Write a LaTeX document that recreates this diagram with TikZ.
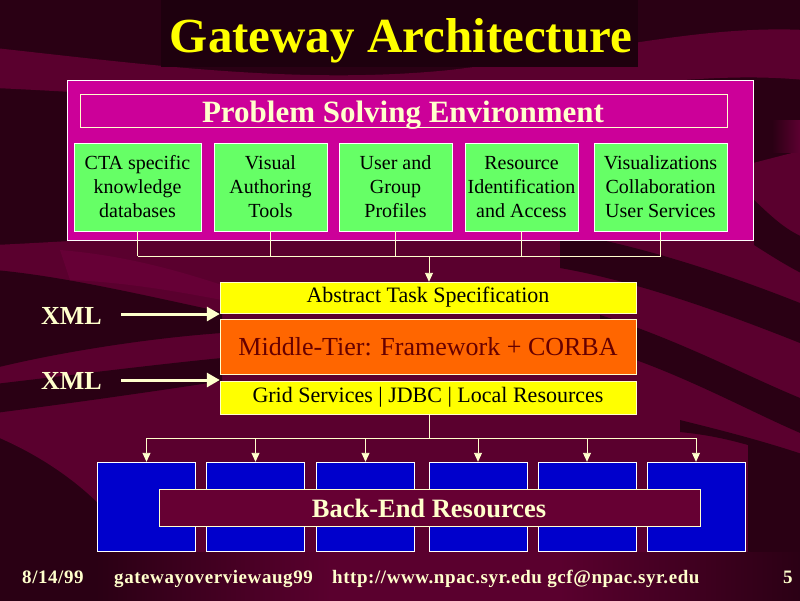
\documentclass[tikz,border=0pt]{standalone}
\usepackage{fontspec}
\setmainfont{Liberation Serif}
\usetikzlibrary{arrows.meta}
\definecolor{bgdark}{RGB}{42,0,20}
\definecolor{bgmid}{RGB}{90,0,46}
\definecolor{bglight}{RGB}{102,0,54}
\definecolor{titlebox}{RGB}{30,0,14}
\definecolor{titleyellow}{RGB}{255,255,0}
\definecolor{cream}{RGB}{255,255,204}
\definecolor{pmagenta}{RGB}{204,0,153}
\definecolor{pgreen}{RGB}{102,255,102}
\definecolor{pyellow}{RGB}{255,255,0}
\definecolor{porange}{RGB}{255,102,0}
\definecolor{pblue}{RGB}{0,0,204}
\definecolor{pmaroon}{RGB}{102,0,51}
\definecolor{darkred}{RGB}{102,0,0}
\tikzset{
  greenbox/.style={draw=white, fill=pgreen, text=black, align=center, inner sep=0pt,
    minimum height=88pt, font=\fontsize{20}{24}\selectfont},
  layerbox/.style={draw=cream, fill=pyellow, text=black, inner sep=0pt,
    minimum width=416pt, font=\fontsize{22}{26}\selectfont},
  bluebox/.style={draw=white, fill=pblue, inner sep=0pt, minimum width=98pt, minimum height=89pt},
  conn/.style={draw=cream, line width=0.9pt},
  tipc/.style={-{Triangle[length=9pt,width=8pt]}},
  xmlarrow/.style={draw=cream, line width=3pt, -{Triangle[length=13pt,width=14pt]}},
  xmltext/.style={text=cream, font=\fontsize{26}{30}\selectfont\bfseries, anchor=base, inner sep=0pt},
  foot/.style={text=cream, font=\fontsize{19}{22}\selectfont\bfseries\addfontfeature{LetterSpace=3}, anchor=base west, inner sep=0pt}
}
\begin{document}
\begin{tikzpicture}[x=1pt,y=-1pt]
\useasboundingbox (0,0) rectangle (800,600);
\begin{scope}
\clip (0,0) rectangle (800,600);
% ---------- background ----------
\fill[bgdark] (-5,-5) rectangle (805,610);
% large maroon area (lower part)
\fill[bgmid] (-5,245) .. controls (200,235) and (450,215) .. (620,190)
  .. controls (700,180) and (760,160) .. (805,150) -- (805,552) -- (100,552)
  -- (100,505) .. controls (75,480) and (40,455) .. (-5,436) -- cycle;
% top swoosh
\fill[bgmid] (-5,48) .. controls (150,65) and (300,85) .. (450,70)
  .. controls (600,52) and (700,25) .. (805,30) -- (805,80)
  .. controls (700,70) and (600,92) .. (450,100)
  .. controls (300,110) and (150,95) .. (-5,88) -- cycle;
\shade[left color=bgdark, right color=bglight] (772,120) rectangle (805,152);
% dark areas on the left
\fill[bgdark] (-5,270) .. controls (60,276) and (130,292) .. (222,312) -- (222,333)
  .. controls (150,338) and (60,352) .. (-5,368) -- cycle;
\fill[bgdark] (-5,384) .. controls (80,374) and (160,364) .. (222,358) -- (222,381)
  .. controls (150,392) and (80,402) .. (-5,413) -- cycle;
\fill[bglight] (60,250) .. controls (120,255) and (170,268) .. (222,285) -- (222,300)
  .. controls (170,290) and (120,282) .. (70,280) -- cycle;
% dark diagonal stripes on the right
\fill[bgdark] (560,232) .. controls (640,245) and (730,275) .. (805,305) -- (805,345)
  .. controls (730,315) and (640,282) .. (560,268) -- cycle;
\fill[bgdark] (600,315) .. controls (680,340) and (750,378) .. (805,400) -- (805,435)
  .. controls (750,412) and (680,372) .. (600,348) -- cycle;
\fill[bgdark] (680,420) .. controls (720,430) and (760,440) .. (805,455) -- (805,552)
  -- (748,552) -- (748,445) .. controls (730,440) and (710,435) .. (680,432) -- cycle;
\fill[bgdark] (754,200) .. controls (770,215) and (785,230) .. (805,238) -- (805,275)
  .. controls (785,265) and (770,255) .. (754,245) -- cycle;
% bottom gradient strip
\shade[left color=bgdark, right color=bgmid] (95,552) rectangle (331,610);
\fill[bgmid] (329,552) rectangle (561,610);
\shade[left color=bgmid, right color=bgdark] (559,552) rectangle (805,610);
\end{scope}
% ---------- title ----------
\node[fill=titlebox, minimum width=477pt, minimum height=67pt, inner sep=0pt] (titlebg) at (399.5,33.5) {};
\node[text=titleyellow, font=\fontsize{49}{55}\selectfont\bfseries, anchor=base, inner sep=0pt] (title) at (401,52) {Gateway Architecture};
% ---------- PSE ----------
\node[draw=white, fill=pmagenta, minimum width=686pt, minimum height=160pt, inner sep=0pt] (pse) at (410,160) {};
\node[draw=cream, minimum width=647pt, minimum height=33pt, inner sep=0pt] (psetitlebox) at (403.5,110.5) {};
\node[text=cream, font=\fontsize{31}{34}\selectfont\bfseries, anchor=base, inner sep=0pt] (psetitle) at (403,122) {Problem Solving Environment};
\node[greenbox, minimum width=127pt] (g1) at (137.5,187) {CTA specific\\knowledge\\databases};
\node[greenbox, minimum width=113pt] (g2) at (270.5,187) {Visual\\Authoring\\Tools};
\node[greenbox, minimum width=113pt] (g3) at (395.5,187) {User and\\Group\\Profiles};
\node[greenbox, minimum width=113pt] (g4) at (521.5,187) {Resource\\Identification\\and Access};
\node[greenbox, minimum width=133pt] (g5) at (660.5,187) {Visualizations\\Collaboration\\User Services};
\coordinate (hub) at (429,256);
\foreach \g in {g1,g2,g3,g4,g5} \draw[conn] (\g.south) -- (\g.south |- hub);
\draw[conn] (g1.south |- hub) -- (g5.south |- hub);
% ---------- middle tier ----------
\node[layerbox, minimum height=31pt] (ats) at (428,297.5) {Abstract Task Specification};
\node[draw=cream, fill=porange, text=darkred, inner sep=0pt, minimum width=416pt, minimum height=55pt,
  font=\fontsize{26}{30}\selectfont] (mid) at (428,346.5) {Middle-Tier: Framework + CORBA};
\node[layerbox, minimum height=33pt] (grid) at (428,397.5) {Grid Services | JDBC | Local Resources};
\draw[conn, tipc, fill=cream] (hub) -- (hub |- ats.north);
\node[xmltext] (xml1) at (71.5,324) {XML};
\node[xmltext] (xml2) at (71.5,389) {XML};
\coordinate (xa) at (121,314);
\coordinate (xb) at (121,380);
\draw[xmlarrow, fill=cream] (xa) -- (xa -| ats.west);
\draw[xmlarrow, fill=cream] (xb) -- (xb -| grid.west);
% ---------- back end ----------
\node[bluebox] (b1) at (146.5,506.5) {};
\node[bluebox] (b2) at (255.5,506.5) {};
\node[bluebox] (b3) at (365.5,506.5) {};
\node[bluebox] (b4) at (478,506.5) {};
\node[bluebox] (b5) at (587,506.5) {};
\node[bluebox] (b6) at (696,506.5) {};
\coordinate (hub2) at (429,438);
\draw[conn] (grid.south -| hub2) -- (hub2);
\draw[conn] (b1.north |- hub2) -- (b6.north |- hub2);
\foreach \b in {b1,b2,b3,b4,b5,b6} \draw[conn, tipc, fill=cream] (\b.north |- hub2) -- (\b.north);
\node[draw=cream, fill=pmaroon, inner sep=0pt, minimum width=541pt, minimum height=37pt] (backend) at (429.5,507.5) {};
\node[text=cream, font=\fontsize{26.5}{30}\selectfont\bfseries, anchor=base, inner sep=0pt] (backendtext) at (429,517) {Back-End Resources};
% ---------- footer ----------
\node[foot] (f1) at (22,583) {8/14/99};
\node[foot] (f2) at (114,583) {gatewayoverviewaug99};
\node[foot] (f3) at (332,583) {http://www.npac.syr.edu gcf@npac.syr.edu};
\node[foot] (f4) at (783,583) {5};
\end{tikzpicture}
\end{document}
